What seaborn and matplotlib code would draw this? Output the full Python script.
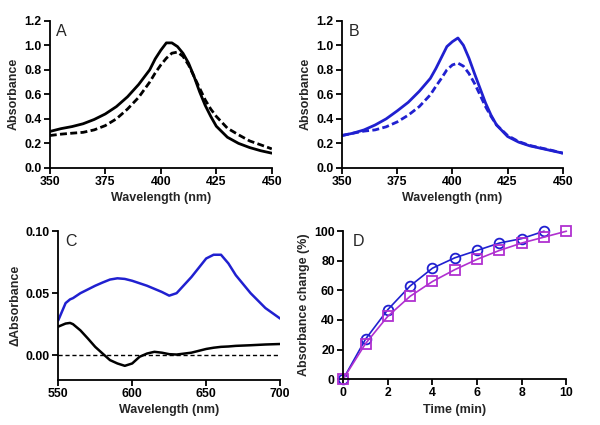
import matplotlib
matplotlib.use('Agg')
import matplotlib.pyplot as plt
import seaborn as sns

# Panel A : spectres (noir)
wl_a = [350, 355, 360, 365, 370, 375, 380, 385, 390, 395, 397.5, 400, 402.5, 405, 407.5,
        410, 412.5, 415, 417.5, 420, 422.5, 425, 430, 435, 440, 445, 450]
a_solid = [0.297, 0.32, 0.337, 0.36, 0.395, 0.44, 0.50, 0.58, 0.68, 0.80, 0.89, 0.96, 1.02,
           1.02, 0.99, 0.935, 0.855, 0.745, 0.62, 0.51, 0.42, 0.34, 0.25, 0.20, 0.166,
           0.14, 0.12]
a_dash = [0.264, 0.275, 0.283, 0.29, 0.31, 0.345, 0.40, 0.48, 0.575, 0.70, 0.775, 0.84,
          0.895, 0.936, 0.945, 0.91, 0.84, 0.745, 0.65, 0.555, 0.48, 0.42, 0.324, 0.27,
          0.22, 0.188, 0.155]

# Panel B : spectres (bleu)
wl_b = [350, 355, 360, 365, 370, 375, 380, 385, 390, 392.5, 395, 397.5, 400, 402.5, 405,
        407.5, 410, 412.5, 415, 417.5, 420, 425, 430, 435, 440, 445, 450]
b_solid = [0.264, 0.283, 0.31, 0.35, 0.40, 0.465, 0.535, 0.625, 0.73, 0.81, 0.90, 0.99,
           1.03, 1.06, 1.00, 0.895, 0.77, 0.65, 0.53, 0.43, 0.35, 0.256, 0.21, 0.18, 0.16,
           0.14, 0.12]
b_dash = [0.264, 0.283, 0.30, 0.31, 0.335, 0.375, 0.43, 0.50, 0.596, 0.665, 0.73, 0.80,
          0.84, 0.855, 0.83, 0.77, 0.69, 0.596, 0.50, 0.42, 0.35, 0.264, 0.215, 0.183,
          0.163, 0.143, 0.12]

# Panel C : spectres de difference
wl_c = [550, 555, 558, 560, 565, 570, 575, 580, 585, 590, 595, 600, 605, 610, 615, 620,
        625, 630, 640, 650, 655, 660, 665, 670, 680, 690, 700]
c_blue = [0.028, 0.042, 0.045, 0.046, 0.050, 0.053, 0.056, 0.0586, 0.061, 0.062, 0.0615,
          0.060, 0.058, 0.056, 0.0535, 0.051, 0.048, 0.050, 0.063, 0.078, 0.081, 0.081,
          0.074, 0.0645, 0.050, 0.038, 0.0295]
c_black = [0.023, 0.0255, 0.026, 0.025, 0.020, 0.0135, 0.0067, 0.0013, -0.004, -0.0067,
           -0.0086, -0.0067, -0.0013, 0.0013, 0.0027, 0.002, 0.0008, 0.0005, 0.002, 0.005,
           0.006, 0.0067, 0.007, 0.0075, 0.008, 0.0086, 0.009]

# Panel D : cinetique
t_circ = [0, 1, 2, 3, 4, 5, 6, 7, 8, 9]
circ = [0, 27, 47, 63, 75, 82, 87, 92, 95, 100]
t_sq = [0, 1, 2, 3, 4, 5, 6, 7, 8, 9, 10]
sq = [0, 24, 42.5, 56, 66, 74, 81, 87, 92, 96, 100]

BLUE = '#2020d0'
MAG = '#b030d0'
LAB = 9
TICK = 8.8

sns.set_theme(style='ticks')
plt.rcParams['font.family'] = ['Liberation Sans', 'DejaVu Sans']
plt.rcParams['font.weight'] = 'bold'

fig = plt.figure(figsize=(6, 4.25), dpi=100)
axA = fig.add_axes([0.083, 0.605, 0.37, 0.346])
axB = fig.add_axes([0.570, 0.605, 0.368, 0.346])
axC = fig.add_axes([0.097, 0.106, 0.37, 0.35])
axD = fig.add_axes([0.572, 0.108, 0.372, 0.348])

sns.lineplot(x=wl_a, y=a_solid, ax=axA, color='black', lw=2)
sns.lineplot(x=wl_a, y=a_dash, ax=axA, color='black', lw=2, linestyle=(0, (2.5, 1.2)))
sns.lineplot(x=wl_b, y=b_solid, ax=axB, color=BLUE, lw=2)
sns.lineplot(x=wl_b, y=b_dash, ax=axB, color=BLUE, lw=2, linestyle=(0, (2.5, 1.2)))

for ax, lab in [(axA, 'A'), (axB, 'B')]:
    ax.set_xlim(350, 450)
    ax.set_ylim(0, 1.2)
    ax.set_xticks([350, 375, 400, 425, 450])
    ax.set_yticks([0, 0.2, 0.4, 0.6, 0.8, 1.0, 1.2])
    ax.set_yticklabels(['0.0', '0.2', '0.4', '0.6', '0.8', '1.0', '1.2'])
    ax.set_xlabel('Wavelength (nm)', fontsize=LAB, fontweight='bold', labelpad=3)
    ax.set_ylabel('Absorbance', fontsize=LAB, fontweight='bold', labelpad=3)
    ax.text(0.03, 0.98, lab, transform=ax.transAxes, fontsize=11.5, va='top', fontweight='normal')

sns.lineplot(x=wl_c, y=c_blue, ax=axC, color=BLUE, lw=1.8)
sns.lineplot(x=wl_c, y=c_black, ax=axC, color='black', lw=1.8)
axC.axhline(0, color='black', lw=1, linestyle=(0, (3, 2)))
axC.set_xlim(550, 700)
axC.set_ylim(-0.02, 0.10)
axC.set_xticks([550, 600, 650, 700])
axC.set_yticks([0, 0.05, 0.10])
axC.set_yticklabels(['0.00', '0.05', '0.10'])
axC.set_xlabel('Wavelength (nm)', fontsize=LAB, fontweight='bold', labelpad=3)
axC.set_ylabel('\u0394Absorbance', fontsize=LAB, fontweight='bold', labelpad=3)
axC.text(0.03, 0.98, 'C', transform=axC.transAxes, fontsize=11.5, va='top', fontweight='normal')

sns.lineplot(x=t_circ, y=circ, ax=axD, color=BLUE, lw=1.2, marker='o', markersize=7,
             markerfacecolor='none', markeredgecolor=BLUE, markeredgewidth=1.3, clip_on=False)
sns.lineplot(x=t_sq, y=sq, ax=axD, color=MAG, lw=1.2, marker='s', markersize=7,
             markerfacecolor='none', markeredgecolor=MAG, markeredgewidth=1.3, clip_on=False)
axD.set_xlim(0, 10)
axD.set_ylim(0, 100)
axD.set_xticks([0, 2, 4, 6, 8, 10])
axD.set_yticks([0, 20, 40, 60, 80, 100])
axD.set_xlabel('Time (min)', fontsize=LAB, fontweight='bold', labelpad=3)
axD.set_ylabel('Absorbance change (%)', fontsize=LAB, fontweight='bold', labelpad=3)
axD.text(0.045, 0.98, 'D', transform=axD.transAxes, fontsize=11.5, va='top', fontweight='normal')

for ax in [axA, axB, axC, axD]:
    sns.despine(ax=ax)
    for s in ['left', 'bottom']:
        ax.spines[s].set_linewidth(1.3)
        ax.spines[s].set_color('black')
    ax.tick_params(length=4, width=1.3, labelsize=TICK, colors='black', pad=2)
    for t in ax.get_xticklabels() + ax.get_yticklabels():
        t.set_fontweight('bold')

fig.savefig('out.png', dpi=100)
